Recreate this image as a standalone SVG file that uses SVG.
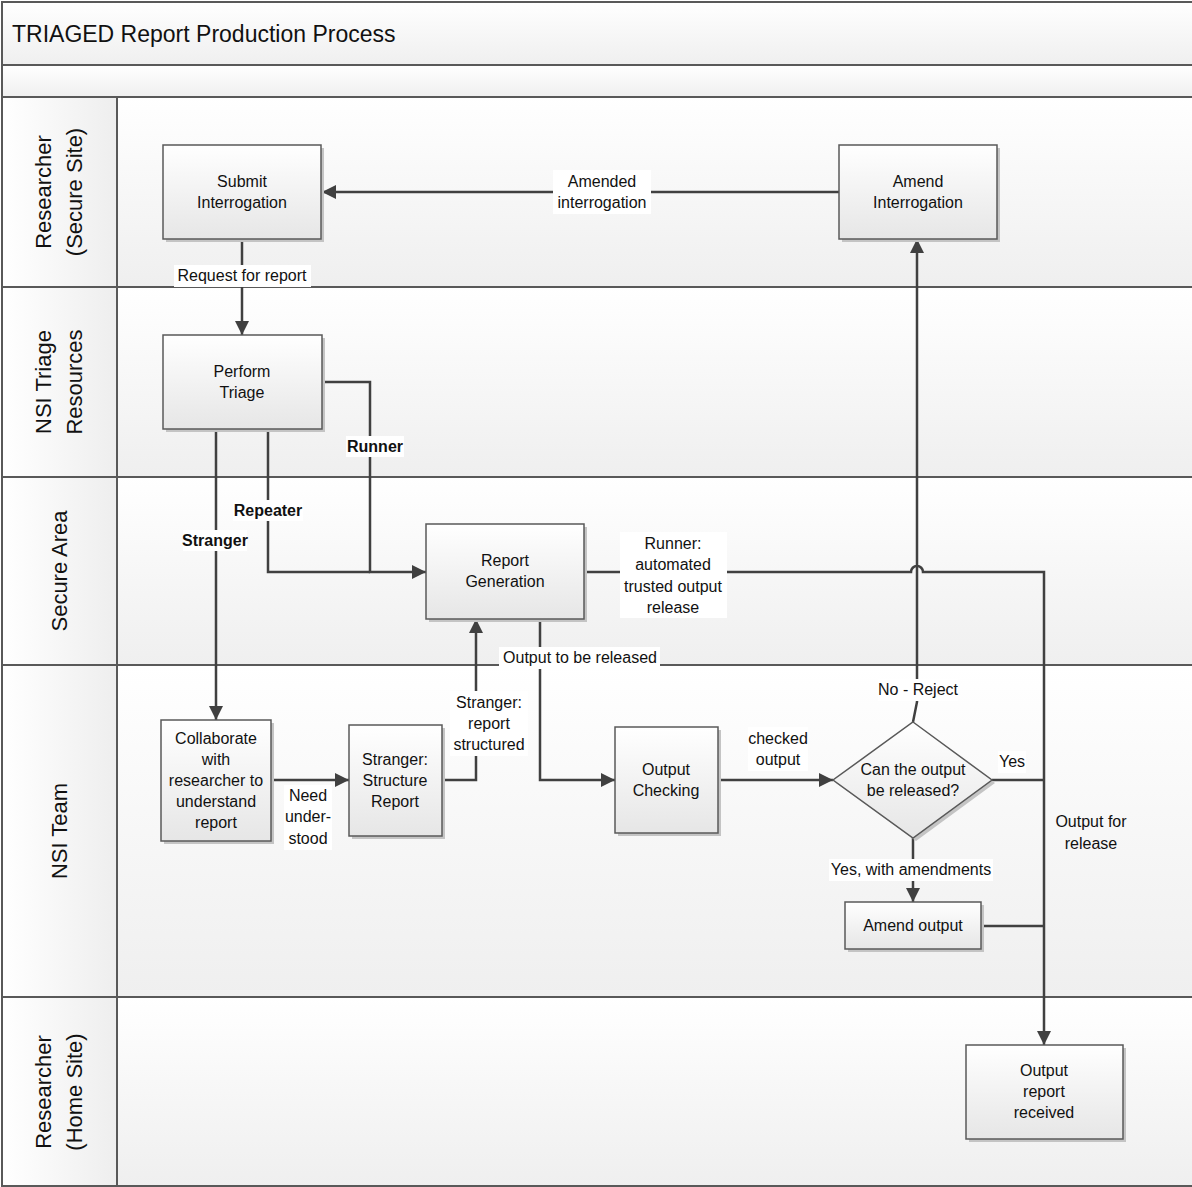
<svg xmlns="http://www.w3.org/2000/svg" width="1192" height="1187" viewBox="0 0 1192 1187">
<defs>
<linearGradient id="laneG" x1="0" y1="0" x2="0" y2="1">
<stop offset="0" stop-color="#ffffff"/><stop offset="1" stop-color="#efefef"/>
</linearGradient>
<linearGradient id="hdrG" x1="0" y1="0" x2="1" y2="0">
<stop offset="0" stop-color="#ffffff"/><stop offset="1" stop-color="#eeeeee"/>
</linearGradient>
<linearGradient id="nodeG" x1="0" y1="0" x2="0" y2="1">
<stop offset="0" stop-color="#ffffff"/><stop offset="1" stop-color="#e6e6e6"/>
</linearGradient>
<marker id="arr" markerUnits="userSpaceOnUse" markerWidth="14" markerHeight="14" refX="14" refY="7" orient="auto">
<path d="M0,0 L14,7 L0,14 z" fill="#404040"/>
</marker>
<style>
.lane{fill:url(#laneG);stroke:#595959;stroke-width:2}
.hdr{fill:url(#hdrG);stroke:#595959;stroke-width:2}
.node{fill:url(#nodeG);stroke:#595959;stroke-width:1.5}
.shadow{fill:#c4c4c4}
.t{font-family:"Liberation Sans",Arial,sans-serif;font-size:16px;fill:#111;text-anchor:middle}
.b{font-weight:bold}
.lt{font-family:"Liberation Sans",Arial,sans-serif;font-size:22px;fill:#111;text-anchor:middle}
.title{font-family:"Liberation Sans",Arial,sans-serif;font-size:23px;fill:#111}
.c{fill:none;stroke:#404040;stroke-width:2.5}
.ca{fill:none;stroke:#404040;stroke-width:2.5;marker-end:url(#arr)}
.bg{fill:#ffffff}
</style>
</defs>

<g id="frame">
<rect x="2" y="2" width="1192" height="63" class="lane"/>
<rect x="2" y="65" width="1192" height="32" class="lane"/>
<text class="title" x="12" y="42">TRIAGED Report Production Process</text>
</g>

<g id="lanes">
<rect x="117" y="97" width="1077" height="190" class="lane"/>
<rect x="117" y="287" width="1077" height="190" class="lane"/>
<rect x="117" y="477" width="1077" height="188" class="lane"/>
<rect x="117" y="665" width="1077" height="332" class="lane"/>
<rect x="117" y="997" width="1077" height="189" class="lane"/>
<rect x="2" y="97" width="115" height="190" class="hdr"/>
<rect x="2" y="287" width="115" height="190" class="hdr"/>
<rect x="2" y="477" width="115" height="188" class="hdr"/>
<rect x="2" y="665" width="115" height="332" class="hdr"/>
<rect x="2" y="997" width="115" height="189" class="hdr"/>
<text class="lt" transform="translate(51,192) rotate(-90)"><tspan x="0" y="0">Researcher</tspan><tspan x="0" y="31">(Secure Site)</tspan></text>
<text class="lt" transform="translate(51,382) rotate(-90)"><tspan x="0" y="0">NSI Triage</tspan><tspan x="0" y="31">Resources</tspan></text>
<text class="lt" transform="translate(67,571) rotate(-90)">Secure Area</text>
<text class="lt" transform="translate(67,831) rotate(-90)">NSI Team</text>
<text class="lt" transform="translate(51,1092) rotate(-90)"><tspan x="0" y="0">Researcher</tspan><tspan x="0" y="31">(Home Site)</tspan></text>
</g>

<g id="connectors">
<path class="ca" d="M839,192 L322,192"/>
<path class="ca" d="M242,239 L242,335"/>
<path class="ca" d="M322,382 L370,382 L370,572 L426,572"/>
<path class="c" d="M268,429 L268,572 L370,572"/>
<path class="ca" d="M216,429 L216,720"/>
<path class="ca" d="M271,780 L349,780"/>
<path class="ca" d="M442,780 L476,780 L476,619"/>
<path class="ca" d="M540,619 L540,780 L615,780"/>
<path class="ca" d="M718,780 L833,780"/>
<path class="ca" d="M913,722 L917,702 L917,239"/>
<path class="ca" d="M584,572 L911,572 A6,6 0 0 1 923,572 L1044,572 L1044,1045"/>
<path class="c" d="M992,780 L1044,780"/>
<path class="ca" d="M913,838 L913,902"/>
<path class="c" d="M981,926 L1044,926"/>

<rect class="bg" x="553" y="170" width="98" height="44"/>
<text class="t"><tspan x="602" y="187">Amended</tspan><tspan x="602" y="208">interrogation</tspan></text>
<rect class="bg" x="174" y="265" width="137" height="22"/>
<text class="t" x="242" y="281">Request for report</text>
<rect class="bg" x="346" y="436" width="58" height="21"/>
<text class="t b" x="375" y="452">Runner</text>
<rect class="bg" x="233" y="500" width="70" height="21"/>
<text class="t b" x="268" y="516">Repeater</text>
<rect class="bg" x="183" y="530" width="64" height="21"/>
<text class="t b" x="215" y="546">Stranger</text>
<rect class="bg" x="284" y="785" width="48" height="65"/>
<text class="t"><tspan x="308" y="801">Need</tspan><tspan x="308" y="822">under-</tspan><tspan x="308" y="844">stood</tspan></text>
<rect class="bg" x="450" y="691" width="78" height="65"/>
<text class="t"><tspan x="489" y="708">Stranger:</tspan><tspan x="489" y="729">report</tspan><tspan x="489" y="750">structured</tspan></text>
<rect class="bg" x="499" y="647" width="161" height="22"/>
<text class="t" x="580" y="663">Output to be released</text>
<rect class="bg" x="748" y="727" width="60" height="44"/>
<text class="t"><tspan x="778" y="744">checked</tspan><tspan x="778" y="765">output</tspan></text>
<rect class="bg" x="878" y="679" width="80" height="22"/>
<text class="t" x="918" y="695">No - Reject</text>
<rect class="bg" x="620" y="532" width="107" height="86"/>
<text class="t"><tspan x="673" y="549">Runner:</tspan><tspan x="673" y="570">automated</tspan><tspan x="673" y="592">trusted output</tspan><tspan x="673" y="613">release</tspan></text>
<rect class="bg" x="998" y="751" width="28" height="22"/>
<text class="t" x="1012" y="767">Yes</text>
<rect class="bg" x="829" y="859" width="164" height="22"/>
<text class="t" x="911" y="875">Yes, with amendments</text>
<text class="t"><tspan x="1091" y="827">Output for</tspan><tspan x="1091" y="849">release</tspan></text>
</g>

<g id="n-submit">
<rect class="shadow" x="166" y="148" width="158" height="94"/>
<rect class="node" x="163" y="145" width="158" height="94"/>
<text class="t"><tspan x="242" y="187">Submit</tspan><tspan x="242" y="208">Interrogation</tspan></text>
</g>
<g id="n-amend-interrogation">
<rect class="shadow" x="842" y="148" width="158" height="94"/>
<rect class="node" x="839" y="145" width="158" height="94"/>
<text class="t"><tspan x="918" y="187">Amend</tspan><tspan x="918" y="208">Interrogation</tspan></text>
</g>
<g id="n-triage">
<rect class="shadow" x="166" y="338" width="159" height="94"/>
<rect class="node" x="163" y="335" width="159" height="94"/>
<text class="t"><tspan x="242" y="377">Perform</tspan><tspan x="242" y="398">Triage</tspan></text>
</g>
<g id="n-report-generation">
<rect class="shadow" x="429" y="527" width="158" height="95"/>
<rect class="node" x="426" y="524" width="158" height="95"/>
<text class="t"><tspan x="505" y="566">Report</tspan><tspan x="505" y="587">Generation</tspan></text>
</g>
<g id="n-collaborate">
<rect class="shadow" x="164" y="723" width="110" height="121"/>
<rect class="node" x="161" y="720" width="110" height="121"/>
<text class="t"><tspan x="216" y="744">Collaborate</tspan><tspan x="216" y="765">with</tspan><tspan x="216" y="786">researcher to</tspan><tspan x="216" y="807">understand</tspan><tspan x="216" y="828">report</tspan></text>
</g>
<g id="n-structure">
<rect class="shadow" x="352" y="728" width="93" height="111"/>
<rect class="node" x="349" y="725" width="93" height="111"/>
<text class="t"><tspan x="395" y="765">Stranger:</tspan><tspan x="395" y="786">Structure</tspan><tspan x="395" y="807">Report</tspan></text>
</g>
<g id="n-output-checking">
<rect class="shadow" x="618" y="730" width="103" height="106"/>
<rect class="node" x="615" y="727" width="103" height="106"/>
<text class="t"><tspan x="666" y="775">Output</tspan><tspan x="666" y="796">Checking</tspan></text>
</g>
<g id="n-decision">
<path class="shadow" d="M916,725 L995,783 L916,841 L836,783 z"/>
<path class="node" d="M913,722 L992,780 L913,838 L833,780 z"/>
<text class="t"><tspan x="913" y="775">Can the output</tspan><tspan x="913" y="796">be released?</tspan></text>
</g>
<g id="n-amend-output">
<rect class="shadow" x="848" y="905" width="136" height="47"/>
<rect class="node" x="845" y="902" width="136" height="47"/>
<text class="t" x="913" y="931">Amend output</text>
</g>
<g id="n-output-received">
<rect class="shadow" x="969" y="1048" width="157" height="94"/>
<rect class="node" x="966" y="1045" width="157" height="94"/>
<text class="t"><tspan x="1044" y="1076">Output</tspan><tspan x="1044" y="1097">report</tspan><tspan x="1044" y="1118">received</tspan></text>
</g>
</svg>
